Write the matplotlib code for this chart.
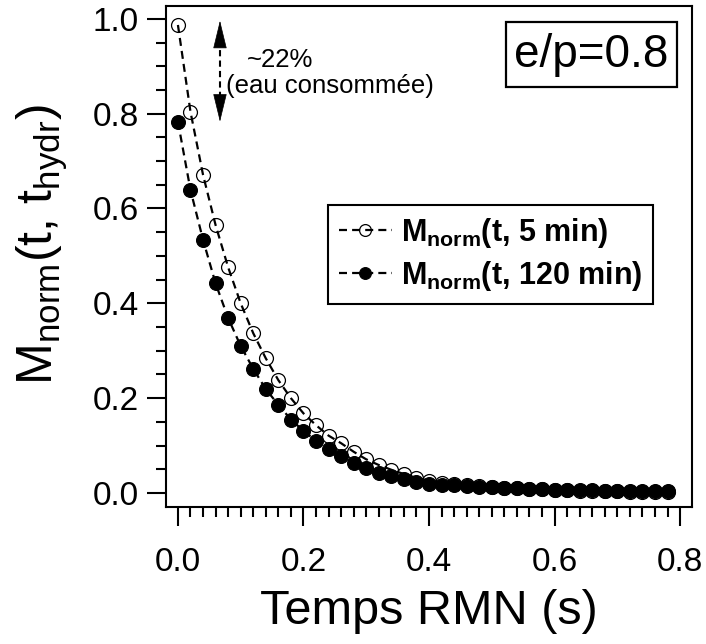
import matplotlib
matplotlib.use("Agg")
import matplotlib.pyplot as plt
from matplotlib.patches import Rectangle
from matplotlib.ticker import MultipleLocator

plt.rcParams['font.family'] = ['Liberation Sans', 'DejaVu Sans']
plt.rcParams['mathtext.fontset'] = 'custom'
plt.rcParams['mathtext.rm'] = 'Liberation Sans'
plt.rcParams['mathtext.it'] = 'Liberation Sans'
plt.rcParams['mathtext.bf'] = 'Liberation Sans:bold'

# ---- data ----
t_rmn = [0.00, 0.02, 0.04, 0.06, 0.08, 0.10, 0.12, 0.14, 0.16, 0.18,
         0.20, 0.22, 0.24, 0.26, 0.28, 0.30, 0.32, 0.34, 0.36, 0.38,
         0.40, 0.42, 0.44, 0.46, 0.48, 0.50, 0.52, 0.54, 0.56, 0.58,
         0.60, 0.62, 0.64, 0.66, 0.68, 0.70, 0.72, 0.74, 0.76, 0.78]
m_5min = [0.987, 0.804, 0.671, 0.565, 0.476, 0.400, 0.337, 0.284, 0.238, 0.200,
          0.168, 0.143, 0.121, 0.105, 0.087, 0.071, 0.059, 0.049, 0.040, 0.032,
          0.026, 0.022, 0.019, 0.017, 0.015, 0.013, 0.011, 0.010, 0.009, 0.008,
          0.007, 0.006, 0.005, 0.005, 0.004, 0.004, 0.003, 0.003, 0.003, 0.002]
m_120min = [0.783, 0.639, 0.534, 0.442, 0.369, 0.310, 0.262, 0.219, 0.186, 0.155,
            0.131, 0.110, 0.092, 0.077, 0.064, 0.052, 0.043, 0.036, 0.029, 0.024,
            0.020, 0.017, 0.016, 0.014, 0.013, 0.012, 0.011, 0.010, 0.009, 0.008,
            0.007, 0.007, 0.006, 0.006, 0.005, 0.005, 0.005, 0.004, 0.004, 0.004]
label_5 = r'$\mathbf{M}_{\mathbf{norm}}$(t, 5 min)'
label_120 = r'$\mathbf{M}_{\mathbf{norm}}$(t, 120 min)'
x_ticks = [0.0, 0.2, 0.4, 0.6, 0.8]
y_ticks = [0.0, 0.2, 0.4, 0.6, 0.8, 1.0]
arrow_x = 0.067
arrow_top = 0.996
arrow_bottom = 0.783

W, H = 706, 644
fig = plt.figure(figsize=(W / 100, H / 100), dpi=100)
L, R, B, T = 166, 692, 507, 6
ax = fig.add_axes([L / W, 1 - B / H, (R - L) / W, (B - T) / H])

dash = (0, (3.6, 2.3))
ax.plot(t_rmn, m_120min, color='black', lw=1.6, linestyle=dash,
        marker='o', markersize=10, markerfacecolor='black',
        markeredgecolor='black', markeredgewidth=0.8, label=label_120, zorder=3)
ax.plot(t_rmn, m_5min, color='black', lw=1.6, linestyle=dash,
        marker='o', markersize=10, markerfacecolor='none',
        markeredgecolor='black', markeredgewidth=0.9, label=label_5, zorder=4)

ax.set_xlim(-0.019, 0.819)
ax.set_ylim(-0.0295, 1.027)
ax.set_xticks(x_ticks)
ax.set_yticks(y_ticks)
ax.set_xticklabels([f'{v:.1f}' for v in x_ticks])
ax.set_yticklabels([f'{v:.1f}' for v in y_ticks])
ax.xaxis.set_minor_locator(MultipleLocator(0.02))
ax.yaxis.set_minor_locator(MultipleLocator(0.05))
ax.tick_params(which='major', direction='out', length=13.5, width=1.5,
               labelsize=24, pad=6)
ax.tick_params(which='minor', direction='out', length=7, width=1.5)
ax.tick_params(axis='x', which='major', pad=15)
for s in ax.spines.values():
    s.set_linewidth(1.5)

ax.set_xlabel('Temps RMN (s)', fontsize=35)
ax.xaxis.set_label_coords(0.5, -(611 - B) / (B - T), transform=ax.transAxes)
ax.xaxis.label.set_va('center')
ax.set_ylabel(r'M$_{\mathrm{norm}}$(t, t$_{\mathrm{hydr}}$)', fontsize=36)
ax.yaxis.set_label_coords(-(L - 42) / (R - L), (B - 245) / (B - T))
ax.yaxis.label.set_va('center')

# double arrow (dashed shaft, filled heads)
ax.plot([arrow_x, arrow_x], [arrow_bottom + 0.05, arrow_top - 0.05],
        color='black', lw=1.5, linestyle=(0, (3, 2)), zorder=5)
head = dict(arrowstyle='-|>,head_length=1.85,head_width=0.45', color='black',
            lw=0.5, shrinkA=0, shrinkB=0, mutation_scale=10)
ax.annotate('', xy=(arrow_x, arrow_top), xytext=(arrow_x, arrow_top - 0.055),
            arrowprops=head)
ax.annotate('', xy=(arrow_x, arrow_bottom), xytext=(arrow_x, arrow_bottom + 0.055),
            arrowprops=head)
ax.text(0.11, 0.913, '~22%', fontsize=18.5, ha='left', va='center')
ax.text(0.0765, 0.859, '(eau consommée)', fontsize=18.5, ha='left', va='center')

# e/p box
bx0, bx1, by0, by1 = 506, 677, 22, 87
ax.add_patch(Rectangle(((bx0 - L) / (R - L), (B - by1) / (B - T)),
                       (bx1 - bx0) / (R - L), (by1 - by0) / (B - T),
                       transform=ax.transAxes, fill=False, lw=1.6,
                       edgecolor='black', zorder=6))
ax.text(((bx0 + bx1) / 2 - L) / (R - L), (B - 55) / (B - T), 'e/p=0.8',
        fontsize=33, ha='center', va='center', transform=ax.transAxes)

handles, labels = ax.get_legend_handles_labels()
leg = ax.legend(handles[::-1], labels[::-1], loc='upper left',
                bbox_to_anchor=((328 - L) / (R - L), (B - 205) / (B - T)),
                borderaxespad=0, frameon=True, fancybox=False,
                prop={'weight': 'bold', 'size': 22}, handlelength=1.75,
                handletextpad=0.3, borderpad=0.35, labelspacing=0.3,
                markerscale=0.85)
leg.get_frame().set_edgecolor('black')
leg.get_frame().set_linewidth(1.5)
leg.get_frame().set_alpha(1)

fig.savefig('out.png', dpi=100)
